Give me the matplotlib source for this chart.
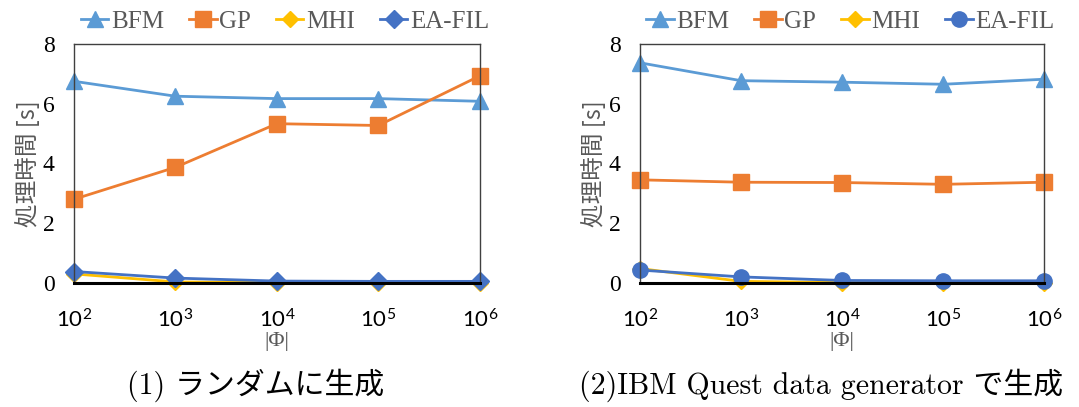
import matplotlib.pyplot as plt

plt.rcParams['font.family'] = ['Liberation Serif', 'Noto Sans CJK JP', 'DejaVu Sans']

sizes = ['$\\mathregular{10^{2}}$', '$\\mathregular{10^{3}}$', '$\\mathregular{10^{4}}$',
         '$\\mathregular{10^{5}}$', '$\\mathregular{10^{6}}$']
series = ['BFM', 'GP', 'MHI', 'EA-FIL']

# (1) random
bfm_rand = [6.75, 6.25, 6.17, 6.17, 6.08]
gp_rand = [2.8, 3.87, 5.33, 5.27, 6.93]
mhi_rand = [0.3, 0.03, 0.01, 0.01, 0.01]
eafil_rand = [0.38, 0.16, 0.06, 0.05, 0.05]

# (2) IBM Quest
bfm_ibm = [7.37, 6.77, 6.72, 6.65, 6.82]
gp_ibm = [3.45, 3.37, 3.36, 3.3, 3.37]
mhi_ibm = [0.48, 0.05, 0.01, 0.01, 0.01]
eafil_ibm = [0.43, 0.2, 0.08, 0.07, 0.07]

colors = ['#5B9BD5', '#ED7D31', '#FFC000', '#4472C4']
gray = '#595959'


def draw(ax, data, last_marker):
    markers = ['^', 's', 'D', last_marker]
    msizes = [12, 11, 8, 11 if last_marker == 'o' else 9]
    x = list(range(len(sizes)))
    for name, vals, c, m, ms in zip(series, data, colors, markers, msizes):
        ax.plot(x, vals, color=c, lw=2, marker=m, ms=ms, label=name, clip_on=False)
    ax.set_xlim(0, 4)
    ax.set_ylim(0, 8)
    ax.set_yticks([0, 2, 4, 6, 8])
    ax.set_xticks(x)
    ax.set_xticklabels(sizes, fontsize=16, family=['Lato', 'DejaVu Sans'])
    ax.tick_params(axis='x', length=0, pad=18)
    ax.tick_params(axis='y', length=0, pad=14, labelsize=17)
    for s in ['top', 'right', 'left']:
        ax.spines[s].set_color('#404040')
        ax.spines[s].set_linewidth(1)
    ax.spines['bottom'].set_color('black')
    ax.spines['bottom'].set_linewidth(2.2)
    ax.set_xlabel('|Φ|', color=gray, fontsize=16, labelpad=1)
    ax.set_ylabel('処理時間 [s]', color=gray, fontsize=17,
                  family=['Noto Sans CJK JP', 'DejaVu Sans'], labelpad=2)
    leg = ax.legend(loc='lower center', bbox_to_anchor=(0.52, 1.0), ncol=4, frameon=False,
                    fontsize=18, handlelength=1.1, handletextpad=0.1, columnspacing=1.0,
                    borderaxespad=0.05)
    for t in leg.get_texts():
        t.set_color(gray)


fig = plt.figure(figsize=(10.79, 4.07), dpi=100)
ax1 = fig.add_axes([0.0686, 0.305, 0.376, 0.587])
ax2 = fig.add_axes([0.593, 0.305, 0.375, 0.587])
draw(ax1, [bfm_rand, gp_rand, mhi_rand, eafil_rand], 'D')
draw(ax2, [bfm_ibm, gp_ibm, mhi_ibm, eafil_ibm], 'o')

cap_font = ['cmr10', 'Noto Sans CJK JP', 'DejaVu Sans']
fig.text(0.2373, 0.054, '(1) ランダムに生成', ha='center', va='center', fontsize=21.5, family=cap_font)
fig.text(0.7614, 0.054, '(2)IBM Quest data generator で生成', ha='center', va='center',
         fontsize=21.5, family=cap_font)

fig.savefig('out.png', dpi=100)
